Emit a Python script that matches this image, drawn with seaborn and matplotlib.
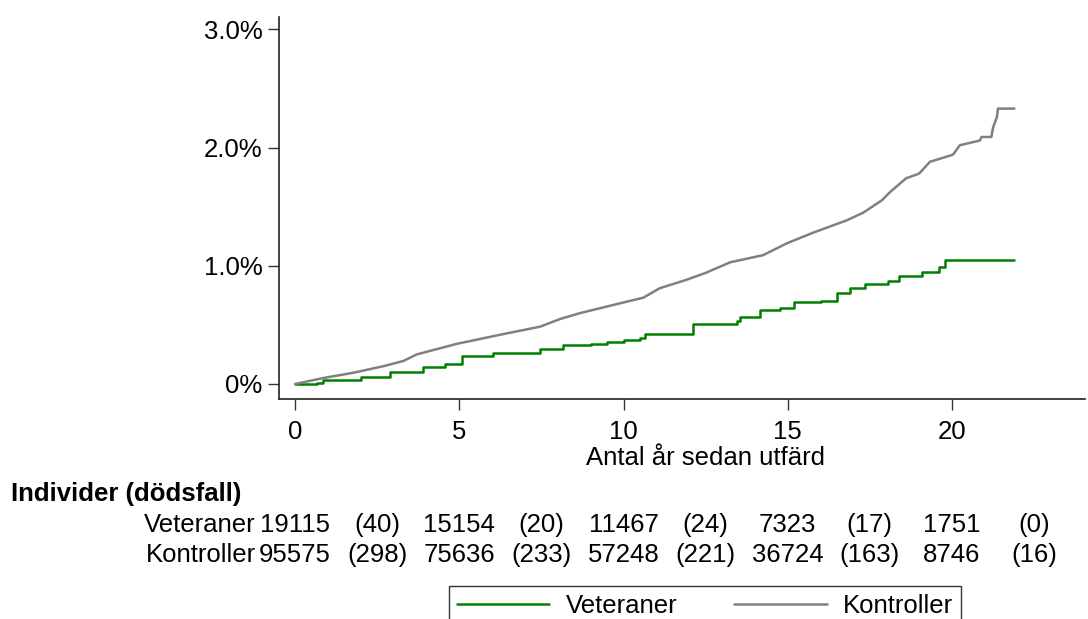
import pandas as pd
import numpy as np
import matplotlib
matplotlib.use("Agg")
import matplotlib.pyplot as plt
import matplotlib.transforms as mtransforms
import seaborn as sns

# Kumulativ dödlighet (%) avläst från originalbilden
vet_t = [0, 0.67, 0.85, 2.0, 2.9, 3.9, 4.57, 5.08, 6.03, 7.46, 8.17, 9.0, 9.5, 10.0,
         10.5, 10.65, 12.1, 13.45, 13.55, 14.15, 14.76, 15.2, 16.0, 16.5, 16.9,
         17.35, 18.05, 18.4, 19.1, 19.6, 19.8, 21.9]
vet_y = [0, 0.01, 0.035, 0.06, 0.10, 0.14, 0.17, 0.24, 0.265, 0.30, 0.33, 0.34, 0.355, 0.37,
         0.39, 0.425, 0.51, 0.535, 0.57, 0.63, 0.64, 0.69, 0.70, 0.77, 0.81,
         0.85, 0.875, 0.91, 0.95, 0.99, 1.05, 1.05]

ctl_t = [0, 0.85, 1.77, 2.68, 3.3, 3.7, 4.93, 6.3, 7.46, 8.07, 8.68, 10.0, 10.6, 11.1,
         11.9, 12.5, 13.25, 14.25, 14.97, 15.77, 16.8, 17.3, 17.87, 18.1, 18.6, 19.0,
         19.33, 20.03, 20.24, 20.85, 20.9, 21.2, 21.25, 21.37, 21.4, 21.9]
ctl_y = [0, 0.05, 0.095, 0.15, 0.195, 0.25, 0.34, 0.42, 0.485, 0.55, 0.60, 0.69, 0.73, 0.81,
         0.88, 0.94, 1.03, 1.09, 1.19, 1.28, 1.385, 1.45, 1.555, 1.62, 1.74, 1.78,
         1.88, 1.94, 2.02, 2.06, 2.09, 2.09, 2.17, 2.26, 2.33, 2.33]

# Risktabell
risk_times = [0, 5, 10, 15, 20]
death_times = [2.5, 7.5, 12.5, 17.5, 22.5]
vet_n = [19115, 15154, 11467, 7323, 1751]
vet_d = [40, 20, 24, 17, 0]
ctl_n = [95575, 75636, 57248, 36724, 8746]
ctl_d = [298, 233, 221, 163, 16]

yticks = [0, 1, 2, 3]
ytick_labels = ["0%", "1.0%", "2.0%", "3.0%"]
xticks = [0, 5, 10, 15, 20]

GREEN = "#008000"
GREY = "#808080"
FS = 18.5

sns.set_style("ticks")
plt.rcParams['font.family'] = ['Liberation Sans', 'DejaVu Sans']
plt.rcParams['text.color'] = 'black'
plt.rcParams['xtick.color'] = 'black'
plt.rcParams['ytick.color'] = 'black'

fig = plt.figure(figsize=(10.88, 6.19), dpi=100)
W, H = 1088, 619
ax = fig.add_axes([279 / W, 1 - 399 / H, (1085 - 279) / W, (399 - 17) / H])

df_vet = pd.DataFrame({"t": vet_t, "y": vet_y})
df_ctl = pd.DataFrame({"t": ctl_t, "y": ctl_y})
sns.lineplot(data=df_vet, x="t", y="y", ax=ax, color=GREEN, lw=1.8,
             drawstyle="steps-post", estimator=None, label="Veteraner")
sns.lineplot(data=df_ctl, x="t", y="y", ax=ax, color=GREY, lw=1.8,
             estimator=None, label="Kontroller")

ax.set_xlim(-0.49, 24.05)
ax.set_ylim(-0.127, 3.105)
ax.set_xticks(xticks)
ax.set_yticks(yticks)
ax.set_yticklabels(ytick_labels)
ax.tick_params(axis="both", labelsize=FS, length=8, width=1, color="#333333", labelcolor="black")
ax.tick_params(axis="x", pad=7)
ax.tick_params(axis="y", pad=4)
for s in ["top", "right"]:
    ax.spines[s].set_visible(False)
for s in ["left", "bottom"]:
    ax.spines[s].set_linewidth(1.2)
    ax.spines[s].set_color("#222222")

ax.set_ylabel("")
ax.set_xlabel("Antal år sedan utfärd", fontsize=FS, color="black")
ax.xaxis.set_label_coords((705 - 279) / (1085 - 279), (399 - 446) / (399 - 17))

# Legend
handles, labels = ax.get_legend_handles_labels()
ax.get_legend().remove()
leg = fig.legend(handles, labels, loc="upper center", bbox_to_anchor=(705 / W, 1 - 586 / H),
                 ncol=2, frameon=True, fancybox=False, edgecolor="black", fontsize=FS,
                 handlelength=3.6, handletextpad=0.65, columnspacing=2.2, borderpad=0.3,
                 borderaxespad=0)
leg.get_frame().set_linewidth(1.0)

# Risktabell under figuren
fig.text(11 / W, 1 - 494 / H, "Individer (dödsfall)", fontsize=FS, fontweight="bold",
         ha="left", va="center")
trans = mtransforms.blended_transform_factory(ax.transData, fig.transFigure)
rows = [("Veteraner", vet_n, vet_d, 525), ("Kontroller", ctl_n, ctl_d, 555)]
for name, n, d, py in rows:
    yy = 1 - py / H
    fig.text(256 / W, yy, name, fontsize=FS, ha="right", va="center")
    for t, v in zip(risk_times, n):
        ax.text(t, yy, str(v), transform=trans, fontsize=FS, ha="center", va="center", clip_on=False)
    for t, v in zip(death_times, d):
        ax.text(t, yy, f"({v})", transform=trans, fontsize=FS, ha="center", va="center", clip_on=False)

fig.savefig("out.png", dpi=100, facecolor="white")
